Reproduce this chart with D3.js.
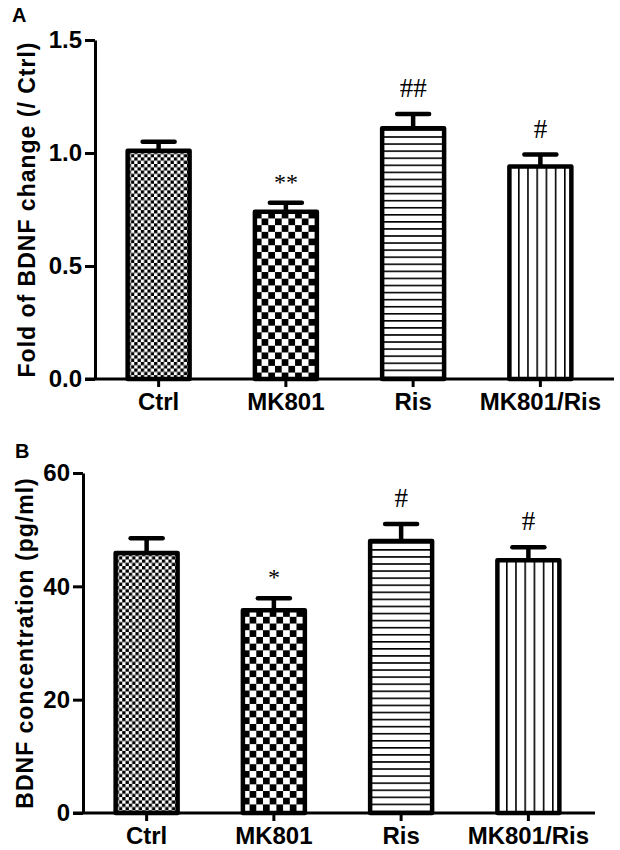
<html>
<head>
<script src="https://cdn.jsdelivr.net/npm/d3@7"></script>
<style>
  body { margin: 0; background: #fff; }
  text { font-family: "Liberation Sans", Arial, sans-serif; }
</style>
</head>
<body>
<svg id="svg" width="620" height="850"></svg>
<script>
// data
var groups = ["Ctrl", "MK801", "Ris", "MK801/Ris"];
var patterns = ["fine", "coarse", "hlines", "vlines"];

var foldMean = [1.01, 0.74, 1.11, 0.94];
var foldSem = [0.04, 0.04, 0.063, 0.053];
var foldMarks = ["", "**", "##", "#"];
var foldTicks = [0.0, 0.5, 1.0, 1.5];

var concMean = [45.9, 35.8, 48.0, 44.6];
var concSem = [2.6, 2.1, 3.0, 2.3];
var concMarks = ["", "*", "#", "#"];
var concTicks = [0, 20, 40, 60];

var svg = d3.select("svg");
var defs = svg.append("defs");

function drawPanel(p) {
    var y = d3.scaleLinear().domain(p.domain).range([p.bottom, p.top]);
    var x = d3.scaleBand().domain(groups).range([p.left, p.left + 509])
              .paddingInner(0.513).paddingOuter(0.2565);
    var bw = x.bandwidth();
    var g = svg.append("g");

    // fill patterns, anchored to each bar
    groups.forEach(function(c, i) {
        var id = "pat" + p.name + i;
        var bx = x(c), by = y(p.mean[i]);
        var kind = patterns[i];
        var pat;
        if (kind == "fine" || kind == "coarse") {
            var s = kind == "fine" ? 3.3 : 6.7;
            pat = defs.append("pattern").attr("id", id).attr("patternUnits", "userSpaceOnUse")
                .attr("x", bx).attr("y", by).attr("width", 2 * s).attr("height", 2 * s);
            pat.append("rect").attr("width", 2 * s).attr("height", 2 * s).attr("fill", "#fff");
            pat.append("rect").attr("x", 0).attr("y", 0).attr("width", s).attr("height", s).attr("fill", "#000");
            pat.append("rect").attr("x", s).attr("y", s).attr("width", s).attr("height", s).attr("fill", "#000");
        } else if (kind == "hlines") {
            pat = defs.append("pattern").attr("id", id).attr("patternUnits", "userSpaceOnUse")
                .attr("x", bx).attr("y", by + 1).attr("width", 20).attr("height", 7.07);
            pat.append("rect").attr("width", 20).attr("height", 7.07).attr("fill", "#fff");
            pat.append("rect").attr("y", 0).attr("width", 20).attr("height", 1.6).attr("fill", "#000");
        } else {
            pat = defs.append("pattern").attr("id", id).attr("patternUnits", "userSpaceOnUse")
                .attr("x", bx - 0.6).attr("y", by).attr("width", 9.2).attr("height", 20);
            pat.append("rect").attr("width", 9.2).attr("height", 20).attr("fill", "#fff");
            pat.append("rect").attr("x", 0).attr("width", 1.6).attr("height", 20).attr("fill", "#000");
        }
    });

    // error bars
    var eb = g.selectAll(".err").data(groups).enter().append("g");
    eb.append("line")
        .attr("x1", function(d) { return x(d) + bw / 2; })
        .attr("x2", function(d) { return x(d) + bw / 2; })
        .attr("y1", function(d, i) { return y(p.mean[i]); })
        .attr("y2", function(d, i) { return y(p.mean[i] + p.sem[i]); })
        .attr("stroke", "#000").attr("stroke-width", 4.5);
    eb.append("line")
        .attr("x1", function(d) { return x(d) + bw / 2 - 16; })
        .attr("x2", function(d) { return x(d) + bw / 2 + 16; })
        .attr("y1", function(d, i) { return y(p.mean[i] + p.sem[i]); })
        .attr("y2", function(d, i) { return y(p.mean[i] + p.sem[i]); })
        .attr("stroke", "#000").attr("stroke-width", 4.5).attr("stroke-linecap", "round");

    // bars
    g.selectAll(".bar").data(groups).enter().append("rect")
        .attr("x", function(d) { return x(d); })
        .attr("y", function(d, i) { return y(p.mean[i]); })
        .attr("width", bw)
        .attr("height", function(d, i) { return y(0) - y(p.mean[i]); })
        .attr("fill", function(d, i) { return "url(#pat" + p.name + i + ")"; })
        .attr("stroke", "#000").attr("stroke-width", 4.5).attr("stroke-linejoin", "round");

    // significance marks
    g.selectAll(".mark").data(groups).enter().append("text")
        .attr("x", function(d) { return x(d) + bw / 2; })
        .attr("y", function(d, i) {
            var star = p.marks[i].indexOf("*") >= 0;
            return y(p.mean[i] + p.sem[i]) - (star ? 13 : 17);
        })
        .attr("text-anchor", "middle")
        .style("font-family", "'Liberation Serif', 'Times New Roman', serif")
        .style("font-size", function(d, i) { return p.marks[i].indexOf("*") >= 0 ? "24px" : "27px"; })
        .text(function(d, i) { return p.marks[i]; });

    // y axis
    var ya = g.append("g").attr("transform", "translate(" + p.left + ",0)")
        .call(d3.axisLeft(y).tickValues(p.ticks).tickFormat(p.fmt)
              .tickSize(10).tickSizeOuter(0).tickPadding(3));
    ya.select(".domain").attr("stroke-width", 3);
    ya.selectAll(".tick line").attr("stroke-width", 3);
    ya.selectAll(".tick text").style("font-size", "24px").style("font-weight", "bold")
        .style("font-family", "'Liberation Sans', Arial, sans-serif").attr("fill", "#000");

    // x axis
    var xa = g.append("g").attr("transform", "translate(0," + p.bottom + ")")
        .call(d3.axisBottom(x).tickSize(8).tickSizeOuter(0).tickPadding(6));
    xa.select(".domain").remove();
    xa.append("line").attr("x1", p.left - 10).attr("x2", p.right)
        .attr("stroke", "#000").attr("stroke-width", 3);
    xa.selectAll(".tick line").attr("stroke-width", 3);
    xa.selectAll(".tick text").style("font-size", "24px").style("font-weight", "bold")
        .style("font-family", "'Liberation Sans', Arial, sans-serif").attr("fill", "#000");

    // axis title
    g.append("text")
        .attr("transform", "translate(" + p.titleX + "," + (p.top + p.bottom) / 2 + ") rotate(-90)")
        .attr("text-anchor", "middle")
        .style("font-size", "23px").style("font-weight", "bold").style("letter-spacing", "1px")
        .text(p.title);

    // panel letter
    g.append("text").attr("x", p.letterX).attr("y", p.letterY)
        .style("font-size", "20px").style("font-weight", "bold").text(p.name);
}

drawPanel({
    name: "A", domain: [0, 1.5], top: 40, bottom: 379, left: 95, right: 614,
    mean: foldMean, sem: foldSem, marks: foldMarks, ticks: foldTicks,
    fmt: d3.format(".1f"), title: "Fold of BDNF change (/ Ctrl)",
    titleX: 35, letterX: 12, letterY: 22
});

drawPanel({
    name: "B", domain: [0, 60], top: 473, bottom: 813, left: 83, right: 595,
    mean: concMean, sem: concSem, marks: concMarks, ticks: concTicks,
    fmt: d3.format("d"), title: "BDNF concentration (pg/ml)",
    titleX: 33, letterX: 15, letterY: 458
});
</script>
</body>
</html>
